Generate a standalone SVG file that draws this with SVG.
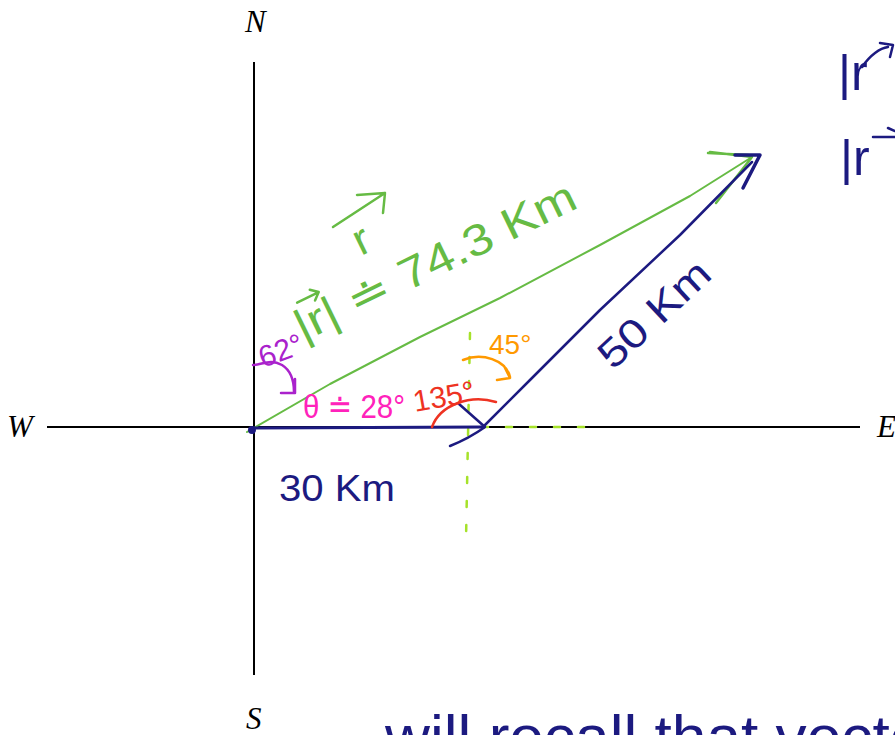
<svg xmlns="http://www.w3.org/2000/svg" width="895" height="735" viewBox="0 0 895 735">
<style>
.ax{stroke:#000;stroke-width:2;fill:none}
.lbl{font-family:"Liberation Serif",serif;font-style:italic;font-size:31px;fill:#000}
.hw{font-family:"Liberation Sans","DejaVu Sans",sans-serif}
.blue{stroke:#1c1a80;fill:none;stroke-linecap:round;stroke-linejoin:round}
.green{stroke:#66bb44;fill:none;stroke-linecap:round;stroke-linejoin:round}
.yg{stroke:#a6e22a;stroke-width:2.5;fill:none;stroke-dasharray:6 18;stroke-linecap:round}
</style>
<rect width="895" height="735" fill="#fff"/>
<g id="axes">
<line class="ax" x1="254" y1="62" x2="254" y2="675"/>
<line class="ax" x1="47" y1="427" x2="860" y2="427"/>
<text class="lbl" x="245" y="32">N</text>
<text class="lbl" x="246" y="729">S</text>
<text class="lbl" x="7" y="437">W</text>
<text class="lbl" x="877" y="437">E</text>
</g>
<g id="guides">
<line class="yg" x1="470" y1="333" x2="466" y2="540"/>
<line class="yg" x1="482" y1="427" x2="600" y2="427"/>
</g>
<g id="connectors">
<path class="green" stroke-width="2" d="M247,432 L330,384 L420,337 L500,298 L600,245 L690,196 L752,157"/>
<path class="green" stroke-width="2.5" d="M708,153 L748,155 M752,157 L716,203 M752,157 L710,152"/>
<path class="blue" stroke-width="3" d="M254,428 L484,427"/>
<path class="blue" stroke-width="2.5" d="M459,404 L485,427 C478,432 465,440 450,446"/>
<circle cx="252" cy="430" r="4" fill="#1c1a80"/>
<path class="blue" stroke-width="2.5" d="M483,427 L530,380 L600,310 L680,235 L752,162"/>
<path class="blue" stroke-width="3.5" d="M735,155 L760,155 L743,188"/>
<path stroke="#ee3322" stroke-width="2.5" fill="none" stroke-linecap="round" d="M432,427 C440,405 470,394 496,402"/>
<path stroke="#ff9900" stroke-width="2.5" fill="none" stroke-linecap="round" stroke-linejoin="round" d="M463,360 C482,352 506,360 510,377 M504,366 L510,378 L497,380"/>
<path stroke="#aa22cc" stroke-width="2.5" fill="none" stroke-linecap="round" stroke-linejoin="round" d="M253,365 C262,365 270,358 282,365 C290,370 294,380 294,392 M281,393 L295,393 L295,379"/>
<path class="green" stroke-width="2.5" d="M333,227 L385,193 M357,195 L385,193 L383,213"/>
<path class="blue" stroke-width="2.5" d="M862,67 C870,55 880,48 888,47 M880,43 L893,45 L890,57"/>
<path class="blue" stroke-width="2.5" d="M873,137 L895,137 M888,128 L895,131"/>
</g>
<g id="labels" class="hw">
<g transform="translate(303,342) rotate(-26)">
<text x="0" y="0" font-size="44" fill="#66bb44" textLength="308" lengthAdjust="spacingAndGlyphs">|r| ≐ 74.3  Km</text>
<path class="green" stroke-width="2.5" d="M12,-38 L36,-38 M29,-44 L36,-38 L29,-32"/>
</g>
<text x="361" y="256" font-size="44" fill="#66bb44" transform="rotate(-26 361 256)">r</text>
<text x="263" y="368" font-size="30" fill="#aa22cc" transform="rotate(-20 263 368)">62°</text>
<text x="303" y="418" font-size="34" fill="#ff22bb" textLength="102" lengthAdjust="spacingAndGlyphs">θ ≐ 28°</text>
<text x="415" y="412" font-size="30" fill="#ee3322" transform="rotate(-10 415 412)">135°</text>
<text x="489" y="354" font-size="28" fill="#ff9900">45°</text>
<text x="613" y="371" font-size="40" fill="#1c1a80" textLength="138" lengthAdjust="spacingAndGlyphs" transform="rotate(-43 613 371)">50 Km</text>
<text x="279" y="501" font-size="36" fill="#1c1a80" textLength="116" lengthAdjust="spacingAndGlyphs">30 Km</text>
<text x="838" y="90" font-size="50" fill="#1c1a80">|r</text>
<text x="840" y="175" font-size="50" fill="#1c1a80">|r</text>
<text x="385" y="757" font-size="60" fill="#1c1a80" textLength="560" lengthAdjust="spacingAndGlyphs">will recall that vector</text>
</g>
</svg>
